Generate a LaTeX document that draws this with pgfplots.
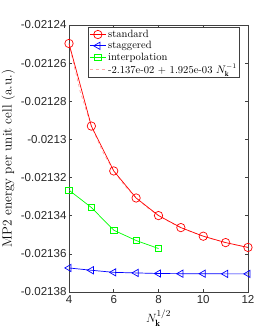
\documentclass[border=0pt]{standalone}
\usepackage{fontspec}
\setsansfont{Liberation Sans}
\usepackage{pgfplots}
\pgfplotsset{compat=1.18}
\begin{document}
\begin{tikzpicture}
\begin{axis}[
  scale only axis, width=179bp, height=267bp,
  xmin=4, xmax=12, ymin=-0.02138, ymax=-0.02124,
  xtick={4,6,8,10,12}, xticklabels={4,6,8,10,12},
  ytick={-0.02138,-0.02136,-0.02134,-0.02132,-0.0213,-0.02128,-0.02126,-0.02124},
  yticklabels={-0.02138,-0.02136,-0.02134,-0.02132,-0.0213,-0.02128,-0.02126,-0.02124},
  scaled y ticks=false,
  tick align=inside,
  major tick length=3bp,
  axis line style={black!75, line width=0.5bp},
  every tick/.style={black!75, line width=0.5bp},
  ticklabel style={font=\sffamily\fontsize{11.6}{13}\selectfont, text=black!85},
  yticklabel style={xshift=1bp},
  ylabel={MP2 energy per unit cell (a.u.)},
  ylabel style={font=\fontsize{13.3}{15}\selectfont, yshift=-1bp},
  xlabel={$N_{\mathbf{k}}^{1/2}$},
  xlabel style={font=\fontsize{13}{15}\selectfont, yshift=1bp},
  legend style={at={(0.108,0.993)}, anchor=north west,
    font=\fontsize{10.6}{12}\selectfont, draw=black!75, line width=0.5bp,
    inner sep=1pt, row sep=-1.5pt, cells={anchor=west}},
  legend image code/.code={
    \draw[mark repeat=2,mark phase=2] plot coordinates {(0cm,0cm) (0.28cm,0cm) (0.56cm,0cm)};},
]
\addplot[red!35, dashed, line width=0.7bp, forget plot] coordinates {
(4,-0.02124969) (4.5,-0.02127494) (5,-0.021293) (5.5,-0.02130636) (6,-0.02131653)
(6.5,-0.02132444) (7,-0.02133071) (7.5,-0.02133578) (8,-0.02133992) (8.5,-0.02134336)
(9,-0.02134623) (9.5,-0.02134867) (10,-0.02135075) (10.5,-0.02135254) (11,-0.02135409)
(11.5,-0.02135544) (12,-0.02135663)};
\addplot[red, line width=0.7bp, mark=o, mark size=4.2bp] coordinates {
(4,-0.02124969) (5,-0.021293) (6,-0.02131653) (7,-0.02133071) (8,-0.02133992)
(9,-0.02134623) (10,-0.02135075) (11,-0.02135409) (12,-0.02135663)};
\addlegendentry{standard}
\addplot[blue, line width=0.7bp, mark=triangle, mark size=4.2bp, mark options={rotate=90}] coordinates {
(4,-0.0213674) (5,-0.0213686) (6,-0.0213697) (7,-0.02137) (8,-0.0213703)
(9,-0.0213704) (10,-0.0213704) (11,-0.0213705) (12,-0.0213705)};
\addlegendentry{staggered}
\addplot[green, line width=0.7bp, mark=square, mark size=3.2bp] coordinates {
(4,-0.0213266) (5,-0.0213357) (6,-0.0213476) (7,-0.021353) (8,-0.0213572)};
\addlegendentry{interpolation}
\addlegendimage{red!35, dashed, line width=0.7bp}
\addlegendentry{-2.137e-02 + 1.925e-03 $N_{\mathbf{k}}^{-1}$}
\end{axis}
\pgfresetboundingbox
\path ([shift={(-69bp,-37bp)}]current axis.south west) rectangle ([shift={(26bp,25bp)}]current axis.north east);
\end{tikzpicture}
\end{document}
